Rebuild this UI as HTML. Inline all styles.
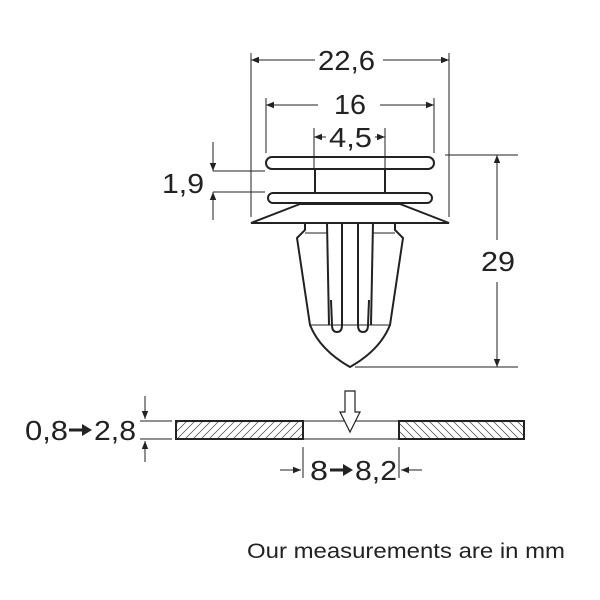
<!DOCTYPE html>
<html><head><style>body{margin:0;background:#fff}svg{display:block}text{font-family:"Liberation Sans",sans-serif;fill:#222}</style></head><body>
<svg width="600" height="600" viewBox="0 0 600 600">
<defs>
<marker id="a" viewBox="0 0 10 10" refX="10" refY="5" markerWidth="11" markerHeight="8" orient="auto-start-reverse" markerUnits="userSpaceOnUse"><path d="M0,1L10,5L0,9z" fill="#222"/></marker>
<pattern id="h1" width="8" height="8" patternUnits="userSpaceOnUse"><path d="M0,8L8,0M-2,2L2,-2M6,10L10,6" stroke="#444" stroke-width="0.7"/></pattern>
<pattern id="h2" width="8" height="8" patternUnits="userSpaceOnUse"><path d="M0,0L8,8M-2,6L2,10M6,-2L10,2" stroke="#444" stroke-width="0.7"/></pattern>
</defs>
<g stroke="#222" stroke-width="1" fill="none">
<line x1="251" y1="53" x2="251" y2="217"/><line x1="449" y1="53" x2="449" y2="217"/>
<line x1="266" y1="98" x2="266" y2="153"/><line x1="434" y1="98" x2="434" y2="153"/>
<line x1="314" y1="128" x2="314" y2="168"/><line x1="385" y1="128" x2="385" y2="168"/>
<line x1="445" y1="155" x2="518" y2="155"/><line x1="355" y1="367" x2="518" y2="367"/>
<line x1="213" y1="171" x2="265" y2="171"/><line x1="213" y1="192" x2="265" y2="192"/>
<line x1="251" y1="60" x2="315" y2="60" marker-start="url(#a)"/><line x1="383" y1="60" x2="449" y2="60" marker-end="url(#a)"/>
<line x1="266" y1="105" x2="318" y2="105" marker-start="url(#a)"/><line x1="380" y1="105" x2="434" y2="105" marker-end="url(#a)"/>
<line x1="314" y1="137" x2="326" y2="137" marker-start="url(#a)"/><line x1="375" y1="137" x2="385" y2="137" marker-end="url(#a)"/>
<line x1="497" y1="155" x2="497" y2="240" marker-start="url(#a)"/><line x1="497" y1="282" x2="497" y2="367" marker-end="url(#a)"/>
<line x1="213" y1="142" x2="213" y2="171" marker-end="url(#a)"/><line x1="213" y1="192" x2="213" y2="220" marker-start="url(#a)"/>
<g stroke-width="2">
<rect x="266" y="157" width="168" height="12" rx="6"/>
<line x1="315" y1="169" x2="315" y2="193"/><line x1="385" y1="169" x2="385" y2="193"/>
<rect x="268" y="193" width="164" height="10" rx="5"/>
<path d="M300,204L251,223L449,223L400,204Z" fill="#fff"/>
<line x1="304" y1="204" x2="396" y2="204" stroke-width="1"/>
<path d="M305,223L305,230L297,238L310,325Q320,350 350,367Q380,350 390,325L403,238L395,230L395,223"/>
<line x1="305" y1="233" x2="328" y2="233" stroke-width="1"/><line x1="372" y1="233" x2="395" y2="233" stroke-width="1"/>
<path d="M327,223L329,325"/><path d="M373,223L371,325"/>
<path d="M342,223L342,325Q342,332 337,332Q332,332 332,325L331,300"/>
<path d="M358,223L358,325Q358,332 363,332Q368,332 368,325L369,300"/>
<path d="M310,325L390,325" stroke-width="1"/>
</g>
<rect x="176" y="421" width="127" height="18" fill="url(#h1)" stroke-width="2"/>
<rect x="399" y="421" width="125" height="18" fill="url(#h2)" stroke-width="2"/>
<line x1="303" y1="421" x2="399" y2="421"/><line x1="303" y1="439" x2="399" y2="439"/>
<path d="M345,391L355,391L355,412L360,412L350,432L340,412L345,412Z" fill="#fff" stroke-width="1.2"/>
<line x1="140" y1="421" x2="172" y2="421"/><line x1="140" y1="439" x2="172" y2="439"/>
<line x1="145" y1="396" x2="145" y2="419" marker-end="url(#a)"/><line x1="145" y1="441" x2="145" y2="462" marker-start="url(#a)"/>
<line x1="303" y1="447" x2="303" y2="478"/><line x1="399" y1="447" x2="399" y2="478"/>
<line x1="280" y1="470" x2="301" y2="470" marker-end="url(#a)"/><line x1="401" y1="470" x2="422" y2="470" marker-start="url(#a)"/>
<!-- bold arrows in labels -->
<line x1="69" y1="430" x2="84" y2="430" stroke-width="3"/><path d="M82,424L92,430L82,436Z" fill="#222" stroke="none"/>
<line x1="330" y1="470" x2="345" y2="470" stroke-width="3"/><path d="M343,464L353,470L343,476Z" fill="#222" stroke="none"/>
</g>
<g font-size="28">
<text x="318" y="70" textLength="57" lengthAdjust="spacingAndGlyphs">22,6</text>
<text x="334" y="114" textLength="32" lengthAdjust="spacingAndGlyphs">16</text>
<text x="329" y="147" textLength="43" lengthAdjust="spacingAndGlyphs">4,5</text>
<text x="481" y="271" textLength="34" lengthAdjust="spacingAndGlyphs">29</text>
<text x="162" y="193" textLength="42" lengthAdjust="spacingAndGlyphs">1,9</text>
<text x="25" y="440" textLength="43" lengthAdjust="spacingAndGlyphs">0,8</text>
<text x="94" y="440" textLength="42" lengthAdjust="spacingAndGlyphs">2,8</text>
<text x="310" y="480" textLength="18" lengthAdjust="spacingAndGlyphs">8</text>
<text x="355" y="480" textLength="42" lengthAdjust="spacingAndGlyphs">8,2</text>
</g>
<text x="247" y="558" font-size="21" textLength="318" lengthAdjust="spacingAndGlyphs">Our measurements are in mm</text>
</svg>
</body></html>
